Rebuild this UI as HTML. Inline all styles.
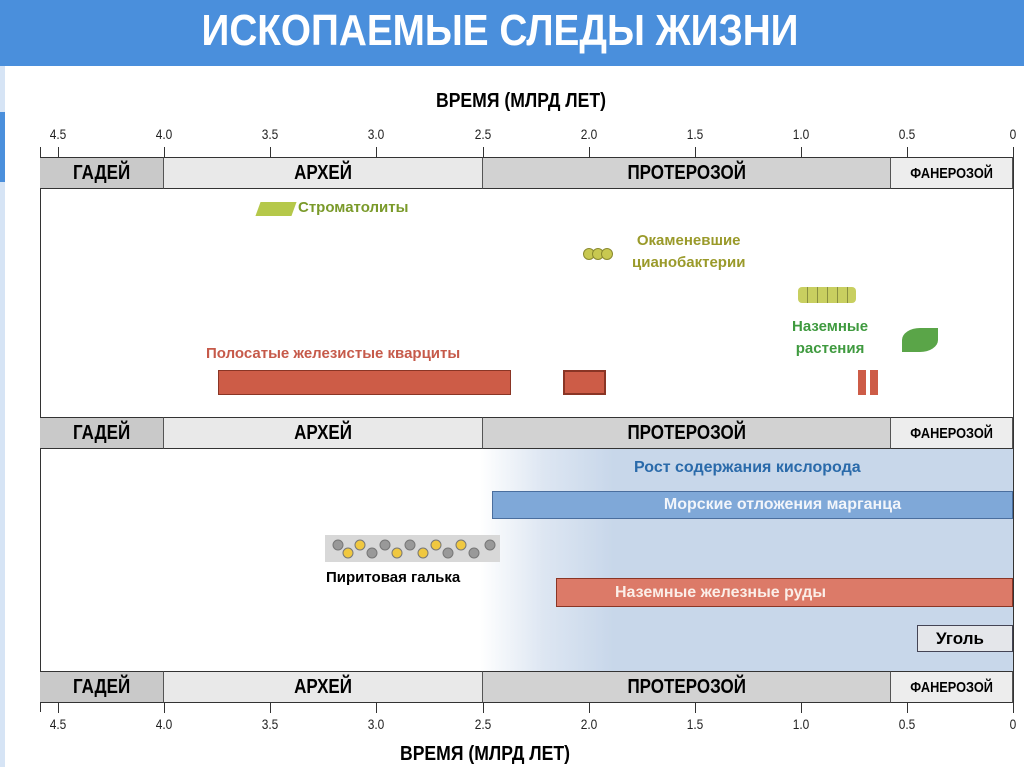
<!DOCTYPE html>
<html><head><meta charset="utf-8"><style>
body{margin:0;width:1024px;height:767px;overflow:hidden;background:#fff;font-family:"Liberation Sans",Arial,sans-serif;position:relative}
.a{position:absolute}
.band{position:absolute;height:32px;border-top:1.5px solid #333;border-bottom:1.5px solid #333;font-weight:bold;font-size:20px;display:flex;align-items:center;justify-content:center;box-sizing:border-box;border-right:1px solid #555}
.band span{display:inline-block;transform:scaleX(0.85)}
.t{position:absolute;font-size:14px;color:#222;transform:translateX(-50%) scaleX(0.85)}
.tk{position:absolute;width:1px;height:10px;background:#333}
</style></head><body>
<div class="a" style="left:0;top:0;width:1024px;height:66px;background:#4a8fdc"></div>
<div class="a" style="left:0;top:66px;width:5px;height:701px;background:#d6e4f5"></div>
<div class="a" style="left:0;top:112px;width:5px;height:70px;background:#4a8fdc"></div>
<div class="a" style="left:0;top:6px;width:1000px;text-align:center;font-size:44px;font-weight:bold;color:#fff;line-height:50px;transform:scaleX(0.88)">ИСКОПАЕМЫЕ СЛЕДЫ ЖИЗНИ</div>
<div class="a" style="left:0;top:90px;width:1042px;text-align:center;font-size:20px;font-weight:bold;transform:scaleX(0.88)">ВРЕМЯ (МЛРД ЛЕТ)</div>
<div class="t" style="left:58px;top:126px">4.5</div><div class="t" style="left:164px;top:126px">4.0</div><div class="t" style="left:270px;top:126px">3.5</div><div class="t" style="left:376px;top:126px">3.0</div><div class="t" style="left:483px;top:126px">2.5</div><div class="t" style="left:589px;top:126px">2.0</div><div class="t" style="left:695px;top:126px">1.5</div><div class="t" style="left:801px;top:126px">1.0</div><div class="t" style="left:907px;top:126px">0.5</div><div class="t" style="left:1013px;top:126px">0</div>
<div class="tk" style="left:58px;top:147px"></div><div class="tk" style="left:164px;top:147px"></div><div class="tk" style="left:270px;top:147px"></div><div class="tk" style="left:376px;top:147px"></div><div class="tk" style="left:483px;top:147px"></div><div class="tk" style="left:589px;top:147px"></div><div class="tk" style="left:695px;top:147px"></div><div class="tk" style="left:801px;top:147px"></div><div class="tk" style="left:907px;top:147px"></div><div class="tk" style="left:1013px;top:147px"></div>
<div class="tk" style="left:58px;top:703px"></div><div class="tk" style="left:164px;top:703px"></div><div class="tk" style="left:270px;top:703px"></div><div class="tk" style="left:376px;top:703px"></div><div class="tk" style="left:483px;top:703px"></div><div class="tk" style="left:589px;top:703px"></div><div class="tk" style="left:695px;top:703px"></div><div class="tk" style="left:801px;top:703px"></div><div class="tk" style="left:907px;top:703px"></div><div class="tk" style="left:1013px;top:703px"></div>
<div class="t" style="left:58px;top:716px">4.5</div><div class="t" style="left:164px;top:716px">4.0</div><div class="t" style="left:270px;top:716px">3.5</div><div class="t" style="left:376px;top:716px">3.0</div><div class="t" style="left:483px;top:716px">2.5</div><div class="t" style="left:589px;top:716px">2.0</div><div class="t" style="left:695px;top:716px">1.5</div><div class="t" style="left:801px;top:716px">1.0</div><div class="t" style="left:907px;top:716px">0.5</div><div class="t" style="left:1013px;top:716px">0</div>
<div class="a" style="left:0;top:743px;width:970px;text-align:center;font-size:20px;font-weight:bold;transform:scaleX(0.88)">ВРЕМЯ (МЛРД ЛЕТ)</div>
<div class="a" style="left:40px;top:147px;width:1px;height:565px;background:#333"></div>
<div class="a" style="left:1013px;top:147px;width:1px;height:565px;background:#333"></div>
<div class="a" style="left:480px;top:449px;width:533px;height:222px;background:linear-gradient(90deg,#fff 0%,#dde6f2 12%,#c8d7ea 25%,#c8d7ea 100%)"></div>
<div class="band" style="left:40px;top:157px;width:124px;background:#c9c9c9"><span>ГАДЕЙ</span></div>
<div class="band" style="left:164px;top:157px;width:319px;background:#e9e9e9"><span>АРХЕЙ</span></div>
<div class="band" style="left:483px;top:157px;width:408px;background:#d2d2d2"><span>ПРОТЕРОЗОЙ</span></div>
<div class="band" style="left:891px;top:157px;width:122px;background:#ededed;font-size:15px"><span>ФАНЕРОЗОЙ</span></div>
<div class="band" style="left:40px;top:417px;width:124px;background:#c9c9c9"><span>ГАДЕЙ</span></div>
<div class="band" style="left:164px;top:417px;width:319px;background:#e9e9e9"><span>АРХЕЙ</span></div>
<div class="band" style="left:483px;top:417px;width:408px;background:#d2d2d2"><span>ПРОТЕРОЗОЙ</span></div>
<div class="band" style="left:891px;top:417px;width:122px;background:#ededed;font-size:15px"><span>ФАНЕРОЗОЙ</span></div>
<div class="band" style="left:40px;top:671px;width:124px;background:#c9c9c9"><span>ГАДЕЙ</span></div>
<div class="band" style="left:164px;top:671px;width:319px;background:#e9e9e9"><span>АРХЕЙ</span></div>
<div class="band" style="left:483px;top:671px;width:408px;background:#d2d2d2"><span>ПРОТЕРОЗОЙ</span></div>
<div class="band" style="left:891px;top:671px;width:122px;background:#ededed;font-size:15px"><span>ФАНЕРОЗОЙ</span></div>
<div class="a" style="left:258px;top:202px;width:36px;height:14px;background:#b5c84a;transform:skewX(-20deg)"></div>
<div class="a" style="left:298px;top:199px;font-size:15px;font-weight:bold;color:#7a9a2a">Строматолиты</div>
<div class="a" style="left:583px;top:248px;width:36px;height:10px;">
<span style="position:absolute;left:0;width:10px;height:10px;border-radius:50%;background:#c8c850;border:1px solid #8a8a30"></span><span style="position:absolute;left:9px;width:10px;height:10px;border-radius:50%;background:#c8c850;border:1px solid #8a8a30"></span><span style="position:absolute;left:18px;width:10px;height:10px;border-radius:50%;background:#c8c850;border:1px solid #8a8a30"></span></div>
<div class="a" style="left:632px;top:230px;font-size:15px;font-weight:bold;color:#9a9a2a;line-height:22px;text-align:center">Окаменевшие<br>цианобактерии</div>
<div class="a" style="left:798px;top:287px;width:58px;height:16px;background:repeating-linear-gradient(90deg,#c8cf60 0 9px,#8a9040 9px 10px);border-radius:4px"></div>
<div class="a" style="left:792px;top:316px;font-size:15px;font-weight:bold;color:#3f9a3f;line-height:22px;text-align:center">Наземные<br>растения</div>
<div class="a" style="left:902px;top:328px;width:36px;height:24px;background:#5aa548;border-radius:50% 0 50% 0"></div>
<div class="a" style="left:206px;top:345px;font-size:15px;font-weight:bold;color:#c65a4a">Полосатые железистые кварциты</div>
<div class="a" style="left:218px;top:370px;width:293px;height:25px;background:#cd5c47;border:1px solid #8a3525;box-sizing:border-box"></div>
<div class="a" style="left:563px;top:370px;width:43px;height:25px;background:#cd5c47;border:2px solid #8a3525;box-sizing:border-box"></div>
<div class="a" style="left:858px;top:370px;width:8px;height:25px;background:#cd5c47"></div>
<div class="a" style="left:870px;top:370px;width:8px;height:25px;background:#cd5c47"></div>
<div class="a" style="left:634px;top:459px;font-size:16px;font-weight:bold;color:#2a6aaa">Рост содержания кислорода</div>
<div class="a" style="left:492px;top:491px;width:521px;height:28px;background:#7fa8d8;border:1px solid #4a6e9e;box-sizing:border-box;color:#f2f5fa;font-weight:bold;font-size:16px;text-align:center;line-height:26px;padding-left:60px">Морские отложения марганца</div>
<div class="a" style="left:325px;top:535px;width:175px;height:27px;background:#d8d8d8"></div>
<div class="a" style="left:330px;top:538px;font-size:0">
<svg width="170" height="22"><g stroke="#777"><circle cx="8" cy="7" r="5" fill="#999"/><circle cx="18" cy="15" r="5" fill="#f0c840"/><circle cx="30" cy="7" r="5" fill="#f0c840"/><circle cx="42" cy="15" r="5" fill="#999"/><circle cx="55" cy="7" r="5" fill="#999"/><circle cx="67" cy="15" r="5" fill="#f0c840"/><circle cx="80" cy="7" r="5" fill="#999"/><circle cx="93" cy="15" r="5" fill="#f0c840"/><circle cx="106" cy="7" r="5" fill="#f0c840"/><circle cx="118" cy="15" r="5" fill="#999"/><circle cx="131" cy="7" r="5" fill="#f0c840"/><circle cx="144" cy="15" r="5" fill="#999"/><circle cx="160" cy="7" r="5" fill="#999"/></g></svg></div>
<div class="a" style="left:326px;top:569px;font-size:15px;font-weight:bold">Пиритовая галька</div>
<div class="a" style="left:556px;top:578px;width:457px;height:29px;background:#dc7a68;border:1px solid #8a3525;box-sizing:border-box;color:#fbeee8;font-weight:bold;font-size:16px;line-height:27px;padding-left:58px">Наземные железные руды</div>
<div class="a" style="left:917px;top:625px;width:96px;height:27px;background:#e4e6ea;border:1px solid #445;box-sizing:border-box;font-weight:bold;font-size:17px;line-height:25px;padding-left:18px">Уголь</div>
</body></html>
